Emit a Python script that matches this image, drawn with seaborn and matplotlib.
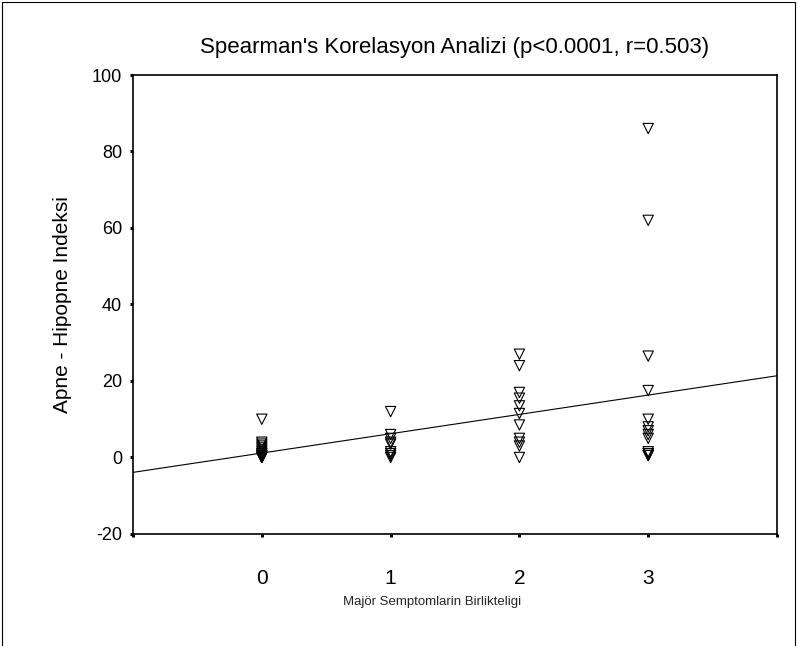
import pandas as pd
import matplotlib.pyplot as plt
import seaborn as sns
from matplotlib.patches import Rectangle

# values, one list per symptom count
group_0 = [10, 4, 3.5, 3, 2.5, 2, 1.5, 1, 1, 0.5, 0.5, 0, 0, 0]
group_1 = [12, 6, 5, 4, 3.5, 1.5, 1, 0.5, 0]
group_2 = [27, 24, 17, 15.5, 13.5, 11.5, 8.5, 5, 4, 3, 0]
group_3 = [86, 62, 26.5, 17.5, 10, 8, 7, 6, 5, 1.5, 1, 1, 0.5, 0.5]

x_ticks = [-1, 0, 1, 2, 3, 4]
x_tick_labels = ['', '0', '1', '2', '3', '']
y_ticks = [-20, 0, 20, 40, 60, 80, 100]

title = "Spearman's Korelasyon Analizi (p<0.0001, r=0.503)"
x_label = "Majör Semptomlarin Birlikteligi"
y_label = "Apne - Hipopne Indeksi"

groups = [group_0, group_1, group_2, group_3]
df = pd.DataFrame({
    'symptoms': [k for k, g in enumerate(groups) for _ in g],
    'ahi': [v for g in groups for v in g],
})

sns.set_theme(style="white")
plt.rcParams['font.family'] = ['Liberation Sans', 'DejaVu Sans']
plt.rcParams['axes.unicode_minus'] = False

fig = plt.figure(figsize=(7.98, 6.46), dpi=100)
ax = fig.add_axes([0.1667, 0.1734, 0.807, 0.7105])

ax.set_xlim(-1, 4)
ax.set_ylim(-20, 100)

sns.scatterplot(data=df, x='symptoms', y='ahi', marker='v', s=55,
                facecolor='none', edgecolor='black', linewidth=0.8, ax=ax)
# fit line over the whole x range
sns.regplot(data=df, x='symptoms', y='ahi', scatter=False, ci=None,
            truncate=False, color='black', line_kws={'linewidth': 0.8}, ax=ax)

ax.set_xticks(x_ticks)
ax.set_xticklabels(x_tick_labels)
ax.set_yticks(y_ticks)
ax.tick_params(axis='both', direction='out', length=2.5, width=2.2,
               color='black', labelcolor='black')
ax.tick_params(axis='x', pad=23, labelsize=15, bottom=True)
ax.tick_params(axis='y', pad=5.5, labelsize=13, left=True)

for side in ax.spines.values():
    side.set_color('black')
    side.set_linewidth(1.2)

ax.set_xlabel('')
ax.set_ylabel(y_label, fontsize=15, color='black')
ax.yaxis.set_label_coords(-0.095, 0.5)
ax.set_title(title, fontsize=16, color='black', pad=16)
fig.text(432 / 798, 1 - 602 / 646, x_label, fontsize=9.5, ha='center', va='center')

# outer frame of the picture
fig.patches.append(Rectangle((0.003, -0.01), 0.993, 1.007, transform=fig.transFigure,
                             fill=False, edgecolor='black', linewidth=0.8))

fig.savefig('out.png', dpi=100)
